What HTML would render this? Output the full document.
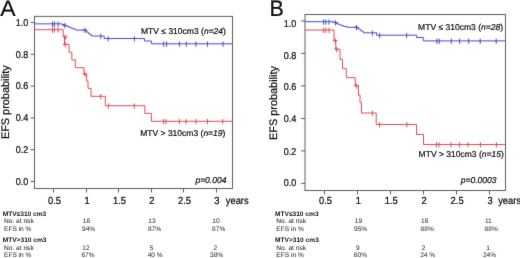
<!DOCTYPE html>
<html><head><meta charset="utf-8"><style>
html,body{margin:0;padding:0;background:#fff;}
body{width:520px;height:258px;overflow:hidden;}
svg{display:block;font-family:"Liberation Sans", sans-serif;text-rendering:geometricPrecision;}
</style></head><body>
<svg width="520" height="258" viewBox="0 0 520 258">
<defs><filter id="soft" x="0" y="0" width="520" height="258" filterUnits="userSpaceOnUse" color-interpolation-filters="sRGB"><feConvolveMatrix order="3" kernelMatrix="0 1 0 1 6 1 0 1 0" divisor="10" edgeMode="duplicate"/></filter><filter id="softt" x="0" y="0" width="520" height="258" filterUnits="userSpaceOnUse" color-interpolation-filters="sRGB"><feConvolveMatrix order="3" kernelMatrix="0 1 0 1 12 1 0 1 0" divisor="16" edgeMode="duplicate"/></filter></defs>
<g filter="url(#soft)">
<rect width="520" height="258" fill="#fff"/>
<path d="M34.5,23.85 L62,23.85 L62,24.6 L64,24.6 L64,25.4 L66.5,25.4 L66.5,26.3 L68.5,26.3 L68.5,27.2 L71,27.2 L71,28.2 L73.5,28.2 L73.5,29.2 L76,29.2 L76,30.1 L85.5,30.1 L85.5,31.1 L87,31.1 L87,32.3 L88.5,32.3 L88.5,33.5 L90,33.5 L90,34.8 L91.5,34.8 L91.5,36.0 L104.2,36.0 L104.2,38.5 L144.5,38.5 L144.5,41 L151.5,41 L151.5,43.8 L232.5,43.8" fill="none" stroke="#4848cc" stroke-width="1.0" stroke-linejoin="miter"/>
<path d="M34.5,29.7 L63.2,29.7 L63.2,36.2 L64.5,36.2 L64.5,44.4 L69,44.4 L69,52.2 L71.8,52.2 L71.8,59.8 L75.3,59.8 L75.3,67.7 L84,67.7 L84,74 L86.6,74 L86.6,81 L88,81 L88,88.4 L91,88.4 L91,96.3 L105.3,96.3 L105.3,105.7 L144.8,105.7 L144.8,113.4 L151.4,113.4 L151.4,121.3 L232.5,121.3" fill="none" stroke="#e04a55" stroke-width="1.0" stroke-linejoin="miter"/>
<path d="M52.50,21.55 V26.85" fill="none" stroke="#4848cc" stroke-width="1.0"/>
<path d="M54.40,21.55 V26.85" fill="none" stroke="#4848cc" stroke-width="1.0"/>
<path d="M58.10,21.55 V26.85" fill="none" stroke="#4848cc" stroke-width="1.0"/>
<path d="M64.80,23.10 V28.40 M62.40,25.40 H67.20" fill="none" stroke="#4848cc" stroke-width="1.0"/>
<path d="M85.00,27.80 V33.10 M82.60,30.10 H87.40" fill="none" stroke="#4848cc" stroke-width="1.0"/>
<path d="M100.80,33.70 V39.00" fill="none" stroke="#4848cc" stroke-width="1.0"/>
<path d="M108.20,36.20 V41.50" fill="none" stroke="#4848cc" stroke-width="1.0"/>
<path d="M134.40,36.20 V41.50" fill="none" stroke="#4848cc" stroke-width="1.0"/>
<path d="M163.70,41.50 V46.80" fill="none" stroke="#4848cc" stroke-width="1.0"/>
<path d="M166.60,41.50 V46.80" fill="none" stroke="#4848cc" stroke-width="1.0"/>
<path d="M179.40,41.50 V46.80" fill="none" stroke="#4848cc" stroke-width="1.0"/>
<path d="M186.30,41.50 V46.80" fill="none" stroke="#4848cc" stroke-width="1.0"/>
<path d="M195.90,41.50 V46.80" fill="none" stroke="#4848cc" stroke-width="1.0"/>
<path d="M207.50,41.50 V46.80" fill="none" stroke="#4848cc" stroke-width="1.0"/>
<path d="M223.10,41.50 V46.80" fill="none" stroke="#4848cc" stroke-width="1.0"/>
<path d="M52.50,27.40 V32.70" fill="none" stroke="#e04a55" stroke-width="1.0"/>
<path d="M54.40,27.40 V32.70" fill="none" stroke="#e04a55" stroke-width="1.0"/>
<path d="M58.10,27.40 V32.70" fill="none" stroke="#e04a55" stroke-width="1.0"/>
<path d="M65.30,34.80 V40.10 M62.90,37.10 H67.70" fill="none" stroke="#e04a55" stroke-width="1.0"/>
<path d="M65.20,42.10 V47.40 M62.80,44.40 H67.60" fill="none" stroke="#e04a55" stroke-width="1.0"/>
<path d="M84.90,71.70 V77.00 M82.50,74.00 H87.30" fill="none" stroke="#e04a55" stroke-width="1.0"/>
<path d="M100.70,94.00 V99.30" fill="none" stroke="#e04a55" stroke-width="1.0"/>
<path d="M108.40,103.40 V108.70" fill="none" stroke="#e04a55" stroke-width="1.0"/>
<path d="M134.30,103.40 V108.70" fill="none" stroke="#e04a55" stroke-width="1.0"/>
<path d="M163.60,119.00 V124.30" fill="none" stroke="#e04a55" stroke-width="1.0"/>
<path d="M166.00,119.00 V124.30" fill="none" stroke="#e04a55" stroke-width="1.0"/>
<path d="M179.40,119.00 V124.30" fill="none" stroke="#e04a55" stroke-width="1.0"/>
<path d="M186.00,119.00 V124.30" fill="none" stroke="#e04a55" stroke-width="1.0"/>
<path d="M196.00,119.00 V124.30" fill="none" stroke="#e04a55" stroke-width="1.0"/>
<path d="M207.50,119.00 V124.30" fill="none" stroke="#e04a55" stroke-width="1.0"/>
<path d="M222.70,119.00 V124.30" fill="none" stroke="#e04a55" stroke-width="1.0"/>
<line x1="34.5" y1="15.899999999999999" x2="34.5" y2="189.0" stroke="#5c5c5c" stroke-width="1.0"/>
<line x1="232.5" y1="15.899999999999999" x2="232.5" y2="189.0" stroke="#5c5c5c" stroke-width="1.0"/>
<line x1="34.5" y1="16.4" x2="232.5" y2="16.4" stroke="#5c5c5c" stroke-width="1.0"/>
<line x1="34.5" y1="188.5" x2="232.5" y2="188.5" stroke="#5c5c5c" stroke-width="1.0"/>
<line x1="30.5" y1="22.5" x2="34.5" y2="22.5" stroke="#5c5c5c" stroke-width="1"/>
<line x1="30.5" y1="54.3" x2="34.5" y2="54.3" stroke="#5c5c5c" stroke-width="1"/>
<line x1="30.5" y1="86.1" x2="34.5" y2="86.1" stroke="#5c5c5c" stroke-width="1"/>
<line x1="30.5" y1="117.9" x2="34.5" y2="117.9" stroke="#5c5c5c" stroke-width="1"/>
<line x1="30.5" y1="149.7" x2="34.5" y2="149.7" stroke="#5c5c5c" stroke-width="1"/>
<line x1="30.5" y1="181.5" x2="34.5" y2="181.5" stroke="#5c5c5c" stroke-width="1"/>
<line x1="53.5" y1="188.5" x2="53.5" y2="192.5" stroke="#5c5c5c" stroke-width="1"/>
<line x1="86.5" y1="188.5" x2="86.5" y2="192.5" stroke="#5c5c5c" stroke-width="1"/>
<line x1="118.5" y1="188.5" x2="118.5" y2="192.5" stroke="#5c5c5c" stroke-width="1"/>
<line x1="151.5" y1="188.5" x2="151.5" y2="192.5" stroke="#5c5c5c" stroke-width="1"/>
<line x1="183.5" y1="188.5" x2="183.5" y2="192.5" stroke="#5c5c5c" stroke-width="1"/>
<line x1="216.5" y1="188.5" x2="216.5" y2="192.5" stroke="#5c5c5c" stroke-width="1"/>
<path d="M305.0,21.7 L333.5,21.7 L333.5,22.5 L335.5,22.5 L335.5,23.3 L337.5,23.3 L337.5,24.1 L339.5,24.1 L339.5,24.9 L341.5,24.9 L341.5,25.7 L343.5,25.7 L343.5,26.5 L347,26.5 L347,27.3 L357.5,27.3 L357.5,28.3 L359,28.3 L359,29.4 L360.5,29.4 L360.5,30.5 L362,30.5 L362,31.6 L363.5,31.6 L363.5,32.8 L376.5,32.8 L376.5,35.2 L416.5,35.2 L416.5,37.5 L423.3,37.5 L423.3,40.9 L505.5,40.9" fill="none" stroke="#4848cc" stroke-width="1.0" stroke-linejoin="miter"/>
<path d="M305.0,30 L334,30 L334,40.7 L335.8,40.7 L335.8,49.3 L340,49.3 L340,59.5 L342.5,59.5 L342.5,68.6 L346.3,68.6 L346.3,77.6 L355.2,77.6 L355.2,85.7 L358.5,85.7 L358.5,95.2 L360,95.2 L360,102.5 L361.5,102.5 L361.5,113 L376.2,113 L376.2,124.5 L416.5,124.5 L416.5,134.5 L423.5,134.5 L423.5,144.5 L505.5,144.5" fill="none" stroke="#e04a55" stroke-width="1.0" stroke-linejoin="miter"/>
<path d="M323.60,19.40 V24.70" fill="none" stroke="#4848cc" stroke-width="1.0"/>
<path d="M325.80,19.40 V24.70" fill="none" stroke="#4848cc" stroke-width="1.0"/>
<path d="M329.00,19.40 V24.70" fill="none" stroke="#4848cc" stroke-width="1.0"/>
<path d="M335.40,20.20 V25.50 M333.00,22.50 H337.80" fill="none" stroke="#4848cc" stroke-width="1.0"/>
<path d="M356.50,25.00 V30.30 M354.10,27.30 H358.90" fill="none" stroke="#4848cc" stroke-width="1.0"/>
<path d="M372.40,30.50 V35.80" fill="none" stroke="#4848cc" stroke-width="1.0"/>
<path d="M379.70,32.90 V38.20" fill="none" stroke="#4848cc" stroke-width="1.0"/>
<path d="M406.70,32.90 V38.20" fill="none" stroke="#4848cc" stroke-width="1.0"/>
<path d="M436.90,38.60 V43.90" fill="none" stroke="#4848cc" stroke-width="1.0"/>
<path d="M439.20,38.60 V43.90" fill="none" stroke="#4848cc" stroke-width="1.0"/>
<path d="M451.30,38.60 V43.90" fill="none" stroke="#4848cc" stroke-width="1.0"/>
<path d="M459.60,38.60 V43.90" fill="none" stroke="#4848cc" stroke-width="1.0"/>
<path d="M468.70,38.60 V43.90" fill="none" stroke="#4848cc" stroke-width="1.0"/>
<path d="M480.20,38.60 V43.90" fill="none" stroke="#4848cc" stroke-width="1.0"/>
<path d="M496.20,38.60 V43.90" fill="none" stroke="#4848cc" stroke-width="1.0"/>
<path d="M323.60,27.70 V33.00" fill="none" stroke="#e04a55" stroke-width="1.0"/>
<path d="M325.80,27.70 V33.00" fill="none" stroke="#e04a55" stroke-width="1.0"/>
<path d="M329.00,27.70 V33.00" fill="none" stroke="#e04a55" stroke-width="1.0"/>
<path d="M335.30,38.40 V43.70 M332.90,40.70 H337.70" fill="none" stroke="#e04a55" stroke-width="1.0"/>
<path d="M336.60,47.00 V52.30 M334.20,49.30 H339.00" fill="none" stroke="#e04a55" stroke-width="1.0"/>
<path d="M356.40,83.40 V88.70 M354.00,85.70 H358.80" fill="none" stroke="#e04a55" stroke-width="1.0"/>
<path d="M372.40,110.70 V116.00" fill="none" stroke="#e04a55" stroke-width="1.0"/>
<path d="M379.60,122.20 V127.50" fill="none" stroke="#e04a55" stroke-width="1.0"/>
<path d="M406.90,122.20 V127.50" fill="none" stroke="#e04a55" stroke-width="1.0"/>
<path d="M436.50,142.20 V147.50" fill="none" stroke="#e04a55" stroke-width="1.0"/>
<path d="M439.00,142.20 V147.50" fill="none" stroke="#e04a55" stroke-width="1.0"/>
<path d="M450.90,142.20 V147.50" fill="none" stroke="#e04a55" stroke-width="1.0"/>
<path d="M459.50,142.20 V147.50" fill="none" stroke="#e04a55" stroke-width="1.0"/>
<path d="M468.00,142.20 V147.50" fill="none" stroke="#e04a55" stroke-width="1.0"/>
<path d="M480.40,142.20 V147.50" fill="none" stroke="#e04a55" stroke-width="1.0"/>
<path d="M496.40,142.20 V147.50" fill="none" stroke="#e04a55" stroke-width="1.0"/>
<line x1="305.0" y1="14.0" x2="305.0" y2="191.0" stroke="#5c5c5c" stroke-width="1.0"/>
<line x1="505.5" y1="14.0" x2="505.5" y2="191.0" stroke="#5c5c5c" stroke-width="1.0"/>
<line x1="305.0" y1="14.5" x2="505.5" y2="14.5" stroke="#5c5c5c" stroke-width="1.0"/>
<line x1="305.0" y1="190.5" x2="505.5" y2="190.5" stroke="#5c5c5c" stroke-width="1.0"/>
<line x1="301.0" y1="20.9" x2="305.0" y2="20.9" stroke="#5c5c5c" stroke-width="1"/>
<line x1="301.0" y1="53.4" x2="305.0" y2="53.4" stroke="#5c5c5c" stroke-width="1"/>
<line x1="301.0" y1="85.9" x2="305.0" y2="85.9" stroke="#5c5c5c" stroke-width="1"/>
<line x1="301.0" y1="118.4" x2="305.0" y2="118.4" stroke="#5c5c5c" stroke-width="1"/>
<line x1="301.0" y1="150.9" x2="305.0" y2="150.9" stroke="#5c5c5c" stroke-width="1"/>
<line x1="301.0" y1="183.4" x2="305.0" y2="183.4" stroke="#5c5c5c" stroke-width="1"/>
<line x1="324.5" y1="190.5" x2="324.5" y2="194.5" stroke="#5c5c5c" stroke-width="1"/>
<line x1="357.5" y1="190.5" x2="357.5" y2="194.5" stroke="#5c5c5c" stroke-width="1"/>
<line x1="390.5" y1="190.5" x2="390.5" y2="194.5" stroke="#5c5c5c" stroke-width="1"/>
<line x1="423.5" y1="190.5" x2="423.5" y2="194.5" stroke="#5c5c5c" stroke-width="1"/>
<line x1="456.5" y1="190.5" x2="456.5" y2="194.5" stroke="#5c5c5c" stroke-width="1"/>
<line x1="489.5" y1="190.5" x2="489.5" y2="194.5" stroke="#5c5c5c" stroke-width="1"/>
</g>
<g filter="url(#softt)">
<text transform="translate(0.35,16.00) scale(1.0,0.98)" font-size="23" text-anchor="start" font-weight="normal" font-style="normal" fill="#111" stroke="#111" stroke-width="0.22" >A</text>
<text x="0" y="0" font-size="10.9" text-anchor="middle" fill="#111" stroke="#111" stroke-width="0.22" transform="translate(9.1,102.2) rotate(-90)">EFS probability</text>
<text transform="translate(28.30,25.62) scale(1.0,1.1)" font-size="9.05" text-anchor="end" font-weight="normal" font-style="normal" fill="#111" stroke="#111" stroke-width="0.22" >1.0</text>
<text transform="translate(28.30,57.92) scale(1.0,1.1)" font-size="9.05" text-anchor="end" font-weight="normal" font-style="normal" fill="#111" stroke="#111" stroke-width="0.22" >0.8</text>
<text transform="translate(28.30,89.32) scale(1.0,1.1)" font-size="9.05" text-anchor="end" font-weight="normal" font-style="normal" fill="#111" stroke="#111" stroke-width="0.22" >0.6</text>
<text transform="translate(28.30,121.32) scale(1.0,1.1)" font-size="9.05" text-anchor="end" font-weight="normal" font-style="normal" fill="#111" stroke="#111" stroke-width="0.22" >0.4</text>
<text transform="translate(28.30,153.32) scale(1.0,1.1)" font-size="9.05" text-anchor="end" font-weight="normal" font-style="normal" fill="#111" stroke="#111" stroke-width="0.22" >0.2</text>
<text transform="translate(28.30,185.02) scale(1.0,1.1)" font-size="9.05" text-anchor="end" font-weight="normal" font-style="normal" fill="#111" stroke="#111" stroke-width="0.22" >0.0</text>
<text transform="translate(54.55,203.90) scale(1.0,1.1)" font-size="9.35" text-anchor="middle" font-weight="normal" font-style="normal" fill="#111" stroke="#111" stroke-width="0.22" >0.5</text>
<text transform="translate(87.02,203.90) scale(1.0,1.1)" font-size="9.35" text-anchor="middle" font-weight="normal" font-style="normal" fill="#111" stroke="#111" stroke-width="0.22" >1</text>
<text transform="translate(119.49,203.90) scale(1.0,1.1)" font-size="9.35" text-anchor="middle" font-weight="normal" font-style="normal" fill="#111" stroke="#111" stroke-width="0.22" >1.5</text>
<text transform="translate(151.96,203.90) scale(1.0,1.1)" font-size="9.35" text-anchor="middle" font-weight="normal" font-style="normal" fill="#111" stroke="#111" stroke-width="0.22" >2</text>
<text transform="translate(184.43,203.90) scale(1.0,1.1)" font-size="9.35" text-anchor="middle" font-weight="normal" font-style="normal" fill="#111" stroke="#111" stroke-width="0.22" >2.5</text>
<text transform="translate(216.90,203.90) scale(1.0,1.1)" font-size="9.35" text-anchor="middle" font-weight="normal" font-style="normal" fill="#111" stroke="#111" stroke-width="0.22" >3</text>
<text transform="translate(225.80,203.90) scale(1.0,1.1)" font-size="9.35" text-anchor="start" font-weight="normal" font-style="normal" fill="#111" stroke="#111" stroke-width="0.22" >years</text>
<text transform="translate(141.00,33.90) scale(1.0,1.0)" font-size="8.52" text-anchor="start" font-weight="normal" font-style="normal" fill="#111" stroke="#111" stroke-width="0.22" >MTV ≤ 310cm3 (<tspan font-style="italic">n=24</tspan>)</text>
<text transform="translate(140.20,135.90) scale(1.0,1.0)" font-size="8.52" text-anchor="start" font-weight="normal" font-style="normal" fill="#111" stroke="#111" stroke-width="0.22" >MTV &gt; 310cm3 (<tspan font-style="italic">n=19</tspan>)</text>
<text transform="translate(195.40,182.70) scale(1.0,1.0)" font-size="8.52" text-anchor="start" font-weight="normal" font-style="italic" fill="#111" stroke="#111" stroke-width="0.22" >p=0.004</text>
<text transform="translate(2.70,215.60) scale(1.0,1.0)" font-size="6.6" text-anchor="start" font-weight="bold" font-style="normal" fill="#111" stroke="#111" stroke-width="0" >MTV≤310 cm3</text>
<text transform="translate(4.00,222.90) scale(1.0,1.0)" font-size="6.6" text-anchor="start" font-weight="normal" font-style="normal" fill="#333" stroke="#333" stroke-width="0.05" >No. at risk</text>
<text transform="translate(4.00,231.30) scale(1.0,1.0)" font-size="6.6" text-anchor="start" font-weight="normal" font-style="normal" fill="#333" stroke="#333" stroke-width="0.05" >EFS in %</text>
<text transform="translate(2.70,242.00) scale(1.0,1.0)" font-size="6.6" text-anchor="start" font-weight="bold" font-style="normal" fill="#111" stroke="#111" stroke-width="0" >MTV&gt;310 cm3</text>
<text transform="translate(4.00,249.90) scale(1.0,1.0)" font-size="6.6" text-anchor="start" font-weight="normal" font-style="normal" fill="#333" stroke="#333" stroke-width="0.05" >No. at risk</text>
<text transform="translate(4.00,257.00) scale(1.0,1.0)" font-size="6.6" text-anchor="start" font-weight="normal" font-style="normal" fill="#333" stroke="#333" stroke-width="0.05" >EFS in %</text>
<text transform="translate(86.50,222.90) scale(1.0,1.0)" font-size="6.6" text-anchor="middle" font-weight="normal" font-style="normal" fill="#333" stroke="#333" stroke-width="0.05" >16</text>
<text transform="translate(88.60,231.20) scale(1.0,1.0)" font-size="6.6" text-anchor="middle" font-weight="normal" font-style="normal" fill="#333" stroke="#333" stroke-width="0.05" >94%</text>
<text transform="translate(152.00,222.90) scale(1.0,1.0)" font-size="6.6" text-anchor="middle" font-weight="normal" font-style="normal" fill="#333" stroke="#333" stroke-width="0.05" >13</text>
<text transform="translate(154.50,231.20) scale(1.0,1.0)" font-size="6.6" text-anchor="middle" font-weight="normal" font-style="normal" fill="#333" stroke="#333" stroke-width="0.05" >87%</text>
<text transform="translate(216.00,222.90) scale(1.0,1.0)" font-size="6.6" text-anchor="middle" font-weight="normal" font-style="normal" fill="#333" stroke="#333" stroke-width="0.05" >10</text>
<text transform="translate(218.70,231.20) scale(1.0,1.0)" font-size="6.6" text-anchor="middle" font-weight="normal" font-style="normal" fill="#333" stroke="#333" stroke-width="0.05" >87%</text>
<text transform="translate(86.00,249.90) scale(1.0,1.0)" font-size="6.6" text-anchor="middle" font-weight="normal" font-style="normal" fill="#333" stroke="#333" stroke-width="0.05" >12</text>
<text transform="translate(88.00,257.00) scale(1.0,1.0)" font-size="6.6" text-anchor="middle" font-weight="normal" font-style="normal" fill="#333" stroke="#333" stroke-width="0.05" >67%</text>
<text transform="translate(151.70,249.90) scale(1.0,1.0)" font-size="6.6" text-anchor="middle" font-weight="normal" font-style="normal" fill="#333" stroke="#333" stroke-width="0.05" >5</text>
<text transform="translate(155.20,257.00) scale(1.0,1.0)" font-size="6.6" text-anchor="middle" font-weight="normal" font-style="normal" fill="#333" stroke="#333" stroke-width="0.05" >40 %</text>
<text transform="translate(215.40,249.90) scale(1.0,1.0)" font-size="6.6" text-anchor="middle" font-weight="normal" font-style="normal" fill="#333" stroke="#333" stroke-width="0.05" >2</text>
<text transform="translate(216.60,257.00) scale(1.0,1.0)" font-size="6.6" text-anchor="middle" font-weight="normal" font-style="normal" fill="#333" stroke="#333" stroke-width="0.05" >38%</text>
<text transform="translate(269.60,16.10) scale(1.0,1.05)" font-size="21.5" text-anchor="start" font-weight="normal" font-style="normal" fill="#111" stroke="#111" stroke-width="0.22" >B</text>
<text x="0" y="0" font-size="10.9" text-anchor="middle" fill="#111" stroke="#111" stroke-width="0.22" transform="translate(277.3,103.05) rotate(-90)">EFS probability</text>
<text transform="translate(296.40,27.12) scale(1.0,1.1)" font-size="9.05" text-anchor="end" font-weight="normal" font-style="normal" fill="#111" stroke="#111" stroke-width="0.22" >1.0</text>
<text transform="translate(296.40,58.82) scale(1.0,1.1)" font-size="9.05" text-anchor="end" font-weight="normal" font-style="normal" fill="#111" stroke="#111" stroke-width="0.22" >0.8</text>
<text transform="translate(296.40,90.02) scale(1.0,1.1)" font-size="9.05" text-anchor="end" font-weight="normal" font-style="normal" fill="#111" stroke="#111" stroke-width="0.22" >0.6</text>
<text transform="translate(296.40,122.12) scale(1.0,1.1)" font-size="9.05" text-anchor="end" font-weight="normal" font-style="normal" fill="#111" stroke="#111" stroke-width="0.22" >0.4</text>
<text transform="translate(296.40,154.72) scale(1.0,1.1)" font-size="9.05" text-anchor="end" font-weight="normal" font-style="normal" fill="#111" stroke="#111" stroke-width="0.22" >0.2</text>
<text transform="translate(296.40,186.42) scale(1.0,1.1)" font-size="9.05" text-anchor="end" font-weight="normal" font-style="normal" fill="#111" stroke="#111" stroke-width="0.22" >0.0</text>
<text transform="translate(325.50,203.80) scale(1.0,1.1)" font-size="9.35" text-anchor="middle" font-weight="normal" font-style="normal" fill="#111" stroke="#111" stroke-width="0.22" >0.5</text>
<text transform="translate(358.40,203.80) scale(1.0,1.1)" font-size="9.35" text-anchor="middle" font-weight="normal" font-style="normal" fill="#111" stroke="#111" stroke-width="0.22" >1</text>
<text transform="translate(391.30,203.80) scale(1.0,1.1)" font-size="9.35" text-anchor="middle" font-weight="normal" font-style="normal" fill="#111" stroke="#111" stroke-width="0.22" >1.5</text>
<text transform="translate(424.20,203.80) scale(1.0,1.1)" font-size="9.35" text-anchor="middle" font-weight="normal" font-style="normal" fill="#111" stroke="#111" stroke-width="0.22" >2</text>
<text transform="translate(457.10,203.80) scale(1.0,1.1)" font-size="9.35" text-anchor="middle" font-weight="normal" font-style="normal" fill="#111" stroke="#111" stroke-width="0.22" >2.5</text>
<text transform="translate(490.00,203.80) scale(1.0,1.1)" font-size="9.35" text-anchor="middle" font-weight="normal" font-style="normal" fill="#111" stroke="#111" stroke-width="0.22" >3</text>
<text transform="translate(498.20,203.80) scale(1.0,1.1)" font-size="9.35" text-anchor="start" font-weight="normal" font-style="normal" fill="#111" stroke="#111" stroke-width="0.22" >years</text>
<text transform="translate(418.10,29.90) scale(1.0,1.0)" font-size="8.52" text-anchor="start" font-weight="normal" font-style="normal" fill="#111" stroke="#111" stroke-width="0.22" >MTV ≤ 310cm3 (<tspan font-style="italic">n=28</tspan>)</text>
<text transform="translate(418.60,156.90) scale(1.0,1.0)" font-size="8.52" text-anchor="start" font-weight="normal" font-style="normal" fill="#111" stroke="#111" stroke-width="0.22" >MTV &gt; 310cm3 (<tspan font-style="italic">n=15</tspan>)</text>
<text transform="translate(460.70,182.90) scale(1.0,1.0)" font-size="8.52" text-anchor="start" font-weight="normal" font-style="italic" fill="#111" stroke="#111" stroke-width="0.22" >p=0.0003</text>
<text transform="translate(275.00,215.60) scale(1.0,1.0)" font-size="6.6" text-anchor="start" font-weight="bold" font-style="normal" fill="#111" stroke="#111" stroke-width="0" >MTV≤310 cm3</text>
<text transform="translate(276.30,222.70) scale(1.0,1.0)" font-size="6.6" text-anchor="start" font-weight="normal" font-style="normal" fill="#333" stroke="#333" stroke-width="0.05" >No. at risk</text>
<text transform="translate(276.30,231.20) scale(1.0,1.0)" font-size="6.6" text-anchor="start" font-weight="normal" font-style="normal" fill="#333" stroke="#333" stroke-width="0.05" >EFS in %</text>
<text transform="translate(275.00,242.00) scale(1.0,1.0)" font-size="6.6" text-anchor="start" font-weight="bold" font-style="normal" fill="#111" stroke="#111" stroke-width="0" >MTV&gt;310 cm3</text>
<text transform="translate(276.30,249.60) scale(1.0,1.0)" font-size="6.6" text-anchor="start" font-weight="normal" font-style="normal" fill="#333" stroke="#333" stroke-width="0.05" >No. at risk</text>
<text transform="translate(276.30,257.00) scale(1.0,1.0)" font-size="6.6" text-anchor="start" font-weight="normal" font-style="normal" fill="#333" stroke="#333" stroke-width="0.05" >EFS in %</text>
<text transform="translate(358.50,222.90) scale(1.0,1.0)" font-size="6.6" text-anchor="middle" font-weight="normal" font-style="normal" fill="#333" stroke="#333" stroke-width="0.05" >19</text>
<text transform="translate(360.60,231.20) scale(1.0,1.0)" font-size="6.6" text-anchor="middle" font-weight="normal" font-style="normal" fill="#333" stroke="#333" stroke-width="0.05" >95%</text>
<text transform="translate(424.70,223.00) scale(1.0,1.0)" font-size="6.6" text-anchor="middle" font-weight="normal" font-style="normal" fill="#333" stroke="#333" stroke-width="0.05" >16</text>
<text transform="translate(427.20,231.20) scale(1.0,1.0)" font-size="6.6" text-anchor="middle" font-weight="normal" font-style="normal" fill="#333" stroke="#333" stroke-width="0.05" >88%</text>
<text transform="translate(488.30,223.00) scale(1.0,1.0)" font-size="6.6" text-anchor="middle" font-weight="normal" font-style="normal" fill="#333" stroke="#333" stroke-width="0.05" >11</text>
<text transform="translate(491.20,231.20) scale(1.0,1.0)" font-size="6.6" text-anchor="middle" font-weight="normal" font-style="normal" fill="#333" stroke="#333" stroke-width="0.05" >88%</text>
<text transform="translate(357.90,249.60) scale(1.0,1.0)" font-size="6.6" text-anchor="middle" font-weight="normal" font-style="normal" fill="#333" stroke="#333" stroke-width="0.05" >9</text>
<text transform="translate(360.40,257.00) scale(1.0,1.0)" font-size="6.6" text-anchor="middle" font-weight="normal" font-style="normal" fill="#333" stroke="#333" stroke-width="0.05" >60%</text>
<text transform="translate(423.70,249.60) scale(1.0,1.0)" font-size="6.6" text-anchor="middle" font-weight="normal" font-style="normal" fill="#333" stroke="#333" stroke-width="0.05" >2</text>
<text transform="translate(427.70,257.00) scale(1.0,1.0)" font-size="6.6" text-anchor="middle" font-weight="normal" font-style="normal" fill="#333" stroke="#333" stroke-width="0.05" >24 %</text>
<text transform="translate(488.00,249.60) scale(1.0,1.0)" font-size="6.6" text-anchor="middle" font-weight="normal" font-style="normal" fill="#333" stroke="#333" stroke-width="0.05" >1</text>
<text transform="translate(489.50,257.00) scale(1.0,1.0)" font-size="6.6" text-anchor="middle" font-weight="normal" font-style="normal" fill="#333" stroke="#333" stroke-width="0.05" >24%</text>
</g>
</svg>
</body></html>
